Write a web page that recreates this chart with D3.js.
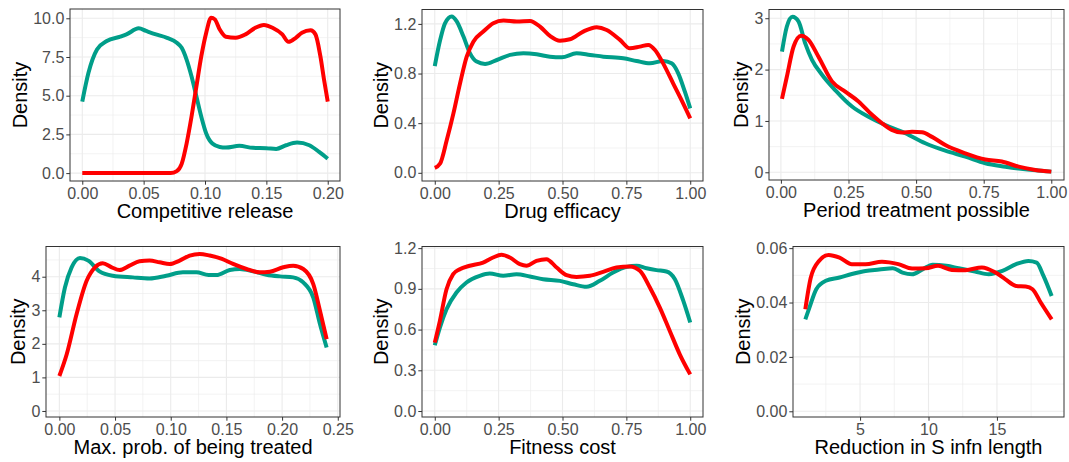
<!DOCTYPE html>
<html>
<head>
<meta charset="utf-8">
<script src="https://d3js.org/d3.v7.min.js"></script>
<style>
  body { margin: 0; background: #fff; }
  text { font-family: "Liberation Sans", Arial, sans-serif; }
</style>
</head>
<body>
<script>
// ---- values: [x, density] ----
var releaseA = [[0,4.62],[0.005,6.46],[0.012,7.98],[0.02,8.53],[0.031,8.81],[0.036,8.96],[0.046,9.35],[0.052,9.18],[0.06,8.96],[0.069,8.74],[0.077,8.42],[0.081,8.09],[0.085,7.33],[0.089,6.25],[0.093,4.95],[0.097,3.64],[0.101,2.56],[0.106,1.91],[0.112,1.69],[0.117,1.65],[0.128,1.76],[0.139,1.63],[0.15,1.61],[0.158,1.56],[0.166,1.8],[0.175,1.97],[0.185,1.8],[0.193,1.37],[0.2,0.93]];
var releaseB = [[0,0],[0.04,0],[0.072,0],[0.077,0.13],[0.081,0.6],[0.085,1.91],[0.089,3.64],[0.093,5.6],[0.097,7.55],[0.101,9.07],[0.105,10.04],[0.108,9.93],[0.112,9.28],[0.117,8.81],[0.125,8.74],[0.133,8.96],[0.141,9.39],[0.148,9.57],[0.155,9.39],[0.163,8.96],[0.168,8.48],[0.174,8.74],[0.179,9.07],[0.186,9.22],[0.19,8.96],[0.194,7.55],[0.197,6.03],[0.2,4.62]];

var efficacyA = [[0,0.86],[0.021,1.07],[0.04,1.205],[0.066,1.26],[0.086,1.22],[0.112,1.1],[0.138,0.963],[0.164,0.896],[0.197,0.877],[0.243,0.909],[0.295,0.95],[0.347,0.963],[0.399,0.955],[0.451,0.936],[0.497,0.931],[0.555,0.963],[0.608,0.95],[0.66,0.936],[0.738,0.923],[0.79,0.901],[0.842,0.882],[0.894,0.901],[0.927,0.882],[0.953,0.802],[0.979,0.654],[1,0.519]];
var efficacyB = [[0,0.04],[0.021,0.075],[0.047,0.264],[0.073,0.479],[0.099,0.721],[0.125,0.936],[0.151,1.057],[0.19,1.138],[0.229,1.205],[0.269,1.227],[0.321,1.219],[0.373,1.224],[0.412,1.178],[0.451,1.103],[0.49,1.065],[0.529,1.076],[0.581,1.138],[0.634,1.173],[0.673,1.151],[0.725,1.071],[0.764,1.003],[0.803,1.017],[0.836,1.03],[0.862,0.99],[0.894,0.882],[0.933,0.721],[0.966,0.586],[1,0.439]];

var periodA = [[0.004,2.35],[0.022,2.84],[0.043,3.03],[0.065,2.94],[0.09,2.51],[0.115,2.19],[0.152,1.9],[0.201,1.6],[0.263,1.28],[0.324,1.08],[0.386,0.92],[0.46,0.76],[0.534,0.565],[0.608,0.42],[0.682,0.305],[0.756,0.175],[0.83,0.11],[0.904,0.058],[1,0.013]];
var periodB = [[0.004,1.43],[0.022,1.86],[0.047,2.45],[0.075,2.66],[0.102,2.58],[0.139,2.25],[0.189,1.77],[0.238,1.57],[0.287,1.38],[0.337,1.12],[0.374,0.955],[0.41,0.825],[0.447,0.773],[0.485,0.79],[0.522,0.78],[0.559,0.69],[0.608,0.53],[0.682,0.37],[0.756,0.25],[0.817,0.21],[0.879,0.11],[0.941,0.045],[1,0.013]];

var treatedA = [[0,2.79],[0.005,3.68],[0.011,4.28],[0.0185,4.56],[0.026,4.48],[0.036,4.16],[0.048,4.03],[0.066,3.98],[0.081,3.95],[0.096,4.03],[0.111,4.13],[0.123,4.13],[0.134,4.05],[0.141,4.05],[0.153,4.2],[0.162,4.23],[0.174,4.16],[0.186,4.06],[0.198,4.01],[0.21,3.98],[0.219,3.83],[0.228,3.38],[0.234,2.59],[0.24,1.89]];
var treatedB = [[0,1.04],[0.0066,1.69],[0.0155,2.89],[0.0245,3.88],[0.032,4.28],[0.039,4.4],[0.047,4.28],[0.054,4.2],[0.063,4.33],[0.072,4.46],[0.081,4.48],[0.09,4.43],[0.099,4.38],[0.108,4.48],[0.117,4.63],[0.126,4.68],[0.135,4.63],[0.146,4.53],[0.156,4.38],[0.168,4.23],[0.18,4.13],[0.189,4.15],[0.201,4.28],[0.21,4.33],[0.219,4.23],[0.228,3.78],[0.234,2.99],[0.24,2.14]];

var fitnessA = [[0,0.484],[0.02,0.615],[0.046,0.75],[0.085,0.873],[0.124,0.947],[0.176,0.996],[0.215,1.013],[0.268,0.996],[0.32,1.008],[0.372,0.991],[0.424,0.971],[0.49,0.959],[0.542,0.934],[0.594,0.915],[0.646,0.959],[0.698,1.02],[0.751,1.062],[0.79,1.07],[0.829,1.052],[0.868,1.038],[0.907,1.028],[0.94,0.971],[0.973,0.811],[1,0.652]];
var fitnessB = [[0,0.504],[0.02,0.664],[0.046,0.897],[0.072,1.008],[0.098,1.045],[0.137,1.07],[0.189,1.094],[0.228,1.131],[0.261,1.151],[0.294,1.131],[0.333,1.082],[0.359,1.07],[0.398,1.106],[0.437,1.119],[0.477,1.057],[0.516,1.001],[0.555,0.988],[0.607,0.996],[0.659,1.025],[0.711,1.057],[0.764,1.065],[0.803,1.033],[0.842,0.91],[0.881,0.762],[0.92,0.59],[0.959,0.418],[1,0.27]];

var reductionA = [[1,0.0338],[1.3,0.0381],[1.8,0.0449],[2.5,0.048],[3.5,0.0492],[4.4,0.0505],[5.4,0.0516],[6.4,0.0521],[7.4,0.0526],[8.1,0.051],[8.8,0.0504],[9.6,0.0523],[10.3,0.0539],[11.3,0.0535],[12.2,0.0526],[13.4,0.0514],[14.4,0.0504],[15.4,0.0516],[16.4,0.0541],[17.3,0.0553],[17.9,0.0547],[18.4,0.0498],[19,0.0424]];
var reductionB = [[1,0.0375],[1.4,0.0492],[2,0.0553],[2.7,0.0575],[3.5,0.0565],[4.4,0.0541],[5.4,0.0541],[6.6,0.055],[7.8,0.0541],[8.8,0.0525],[9.8,0.0526],[10.7,0.0535],[11.7,0.052],[12.7,0.0519],[13.9,0.0529],[14.9,0.051],[15.6,0.0486],[16.4,0.0461],[17.1,0.0459],[17.6,0.0449],[18.2,0.04],[19,0.0338]];

// tick labels
var releaseTicks = [0, 0.05, 0.1, 0.15, 0.2];
var unitTicks = [0, 0.25, 0.5, 0.75, 1];
var treatedTicks = [0, 0.05, 0.1, 0.15, 0.2, 0.25];
var reductionTicks = [5, 10, 15];
var releaseDensTicks = [0, 2.5, 5, 7.5, 10];
var efficacyDensTicks = [0, 0.4, 0.8, 1.2];
var periodDensTicks = [0, 1, 2, 3];
var treatedDensTicks = [0, 1, 2, 3, 4];
var fitnessDensTicks = [0, 0.3, 0.6, 0.9, 1.2];
var reductionDensTicks = [0, 0.02, 0.04, 0.06];

var colorA = "#009E89", colorB = "#FF0000";

var panels = [
  {title: "Competitive release", a: releaseA, b: releaseB, xt: releaseTicks, yt: releaseDensTicks, xf: ".2f", yf: ".1f",
   xd: [-0.01, 0.21], yd: [-0.51, 10.6], box: [70, 9, 340, 181]},
  {title: "Drug efficacy", a: efficacyA, b: efficacyB, xt: unitTicks, yt: efficacyDensTicks, xf: ".2f", yf: ".1f",
   xd: [-0.05, 1.05], yd: [-0.066, 1.316], box: [422, 9.5, 703, 181]},
  {title: "Period treatment possible", a: periodA, b: periodB, xt: unitTicks, yt: periodDensTicks, xf: ".2f", yf: "d",
   xd: [-0.044, 1.047], yd: [-0.15, 3.17], box: [769, 9.5, 1064, 180]},
  {title: "Max. prob. of being treated", a: treatedA, b: treatedB, xt: treatedTicks, yt: treatedDensTicks, xf: ".2f", yf: "d",
   xd: [-0.012, 0.252], yd: [-0.18, 4.9], box: [46, 246.5, 340, 417]},
  {title: "Fitness cost", a: fitnessA, b: fitnessB, xt: unitTicks, yt: fitnessDensTicks, xf: ".2f", yf: ".1f",
   xd: [-0.05, 1.05], yd: [-0.044, 1.212], box: [422, 246.5, 703, 417]},
  {title: "Reduction in S infn length", a: reductionA, b: reductionB, xt: reductionTicks, yt: reductionDensTicks, xf: "d", yf: ".2f",
   xd: [0.1, 19.9], yd: [-0.0021, 0.0606], box: [793, 246.5, 1064, 417]}
];

var svg = d3.select("body").append("svg")
  .attr("width", 1069).attr("height", 462);

// minor breaks: midway between majors, extended one step out
function minors(t, dom) {
  var step = t[1] - t[0], out = [];
  for (var v = t[0] - step / 2; v <= t[t.length - 1] + step; v += step) {
    if (v > dom[0] && v < dom[1]) out.push(v);
  }
  return out;
}

panels.forEach(function (p) {
  var L = p.box[0], T = p.box[1], R = p.box[2], B = p.box[3];
  var x = d3.scaleLinear().domain(p.xd).range([L, R]);
  var y = d3.scaleLinear().domain(p.yd).range([B, T]);
  var g = svg.append("g");

  // grid
  var grid = g.append("g");
  minors(p.xt, p.xd).forEach(function (v) {
    grid.append("line").attr("x1", x(v)).attr("x2", x(v)).attr("y1", T).attr("y2", B)
      .attr("stroke", "#ebebeb").attr("stroke-width", 0.6);
  });
  minors(p.yt, p.yd).forEach(function (v) {
    grid.append("line").attr("x1", L).attr("x2", R).attr("y1", y(v)).attr("y2", y(v))
      .attr("stroke", "#ebebeb").attr("stroke-width", 0.6);
  });
  p.xt.forEach(function (v) {
    grid.append("line").attr("x1", x(v)).attr("x2", x(v)).attr("y1", T).attr("y2", B)
      .attr("stroke", "#ebebeb").attr("stroke-width", 1.1);
  });
  p.yt.forEach(function (v) {
    grid.append("line").attr("x1", L).attr("x2", R).attr("y1", y(v)).attr("y2", y(v))
      .attr("stroke", "#ebebeb").attr("stroke-width", 1.1);
  });

  // density curves
  var line = d3.line().x(function (d) { return x(d[0]); }).y(function (d) { return y(d[1]); })
    .curve(d3.curveMonotoneX);
  g.append("path").datum(p.a).attr("d", line).attr("fill", "none")
    .attr("stroke", colorA).attr("stroke-width", 4);
  g.append("path").datum(p.b).attr("d", line).attr("fill", "none")
    .attr("stroke", colorB).attr("stroke-width", 4);

  // border
  g.append("rect").attr("x", L).attr("y", T).attr("width", R - L).attr("height", B - T)
    .attr("fill", "none").attr("stroke", "#333333").attr("stroke-width", 1);

  // axes
  var xAxis = g.append("g").attr("transform", "translate(0," + B + ")")
    .call(d3.axisBottom(x).tickValues(p.xt).tickFormat(d3.format(p.xf)).tickSize(3.7).tickPadding(2.5));
  var yAxis = g.append("g").attr("transform", "translate(" + L + ",0)")
    .call(d3.axisLeft(y).tickValues(p.yt).tickFormat(d3.format(p.yf)).tickSize(3.7).tickPadding(2));
  [xAxis, yAxis].forEach(function (a) {
    a.select(".domain").remove();
    a.selectAll("line").attr("stroke", "#333333").attr("stroke-width", 1);
    a.selectAll("text").attr("fill", "#4d4d4d").style("font-size", "16px")
      .style("font-family", "'Liberation Sans', Arial, sans-serif");
  });

  var maxW = 0;
  yAxis.selectAll("text").each(function () { maxW = Math.max(maxW, this.getBBox().width); });

  g.append("text").attr("x", (L + R) / 2).attr("y", B + 36.5)
    .attr("text-anchor", "middle").style("font-size", "20px").attr("fill", "#000")
    .text(p.title);
  g.append("text")
    .attr("transform", "translate(" + (L - 5.7 - maxW - 6) + "," + ((T + B) / 2) + ") rotate(-90)")
    .attr("text-anchor", "middle").style("font-size", "20px").attr("fill", "#000")
    .text("Density");
});
</script>
</body>
</html>
